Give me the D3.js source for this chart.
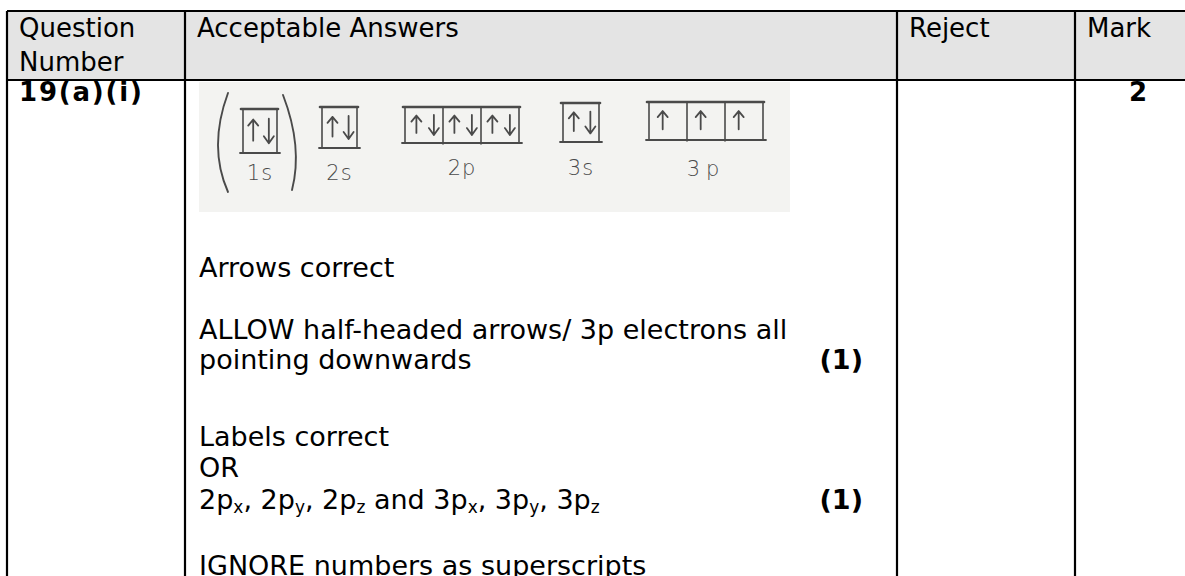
<!DOCTYPE html>
<html>
<head>
<meta charset="utf-8">
<script src="https://cdn.jsdelivr.net/npm/d3@7"></script>
<style>
  body { margin: 0; background: #fff; overflow: hidden; }
  svg { display: block; }
  text { font-family: "DejaVu Sans", Verdana, sans-serif; fill: #000; }
</style>
</head>
<body>
<div class="vis-table"></div>
<script>
// ---- table content ----
const headers = [["Question", "Number"], ["Acceptable Answers"], ["Reject"], ["Mark"]];
const questionNumber = "19(a)(i)";
const totalMark = "2";

// ---- orbital diagram ----
const orbitalLabels = ["1s", "2s", "2p", "3s", "3p"];
const orbitalElectrons = [[2], [2], [2, 2, 2], [2], [1, 1, 1]];

// ---- answer lines ("_x" = subscript) ----
const answerLines = [
  "Arrows correct",
  "ALLOW half-headed arrows/ 3p electrons all",
  "pointing downwards",
  "Labels correct",
  "OR",
  "2p_x, 2p_y, 2p_z and 3p_x, 3p_y, 3p_z",
  "IGNORE numbers as superscripts"
];
const lineMarks = ["", "", "(1)", "", "", "(1)", ""];

const draw = () => {
    const width = 1185, height = 576;
    const colEdges = [7, 185, 897, 1075, 1195];
    const headTop = 11, headBottom = 80;

    d3.select('.vis-table > *').remove();
    let svg = d3.select('.vis-table')
                .append('svg')
                .attr('width', width)
                .attr('height', height);

    // header background
    svg.append("rect")
        .attr("x", colEdges[0]).attr("y", headTop)
        .attr("width", colEdges[4] - colEdges[0])
        .attr("height", headBottom - headTop)
        .attr("fill", "#e4e4e4");

    // header text
    svg.selectAll(".head")
        .data(headers)
        .enter()
        .append("text")
        .attr("class", "head")
        .attr("font-size", 26)
        .each(function(d, i){
            d3.select(this).selectAll("tspan")
                .data(d)
                .enter()
                .append("tspan")
                .attr("x", colEdges[i] + 12)
                .attr("y", function(s, j){ return 37 + j * 34; })
                .text(function(s){ return s; });
        });

    // first row
    svg.append("text")
        .attr("x", colEdges[0] + 12).attr("y", 101)
        .attr("font-size", 26).attr("font-weight", "bold")
        .attr("letter-spacing", 1.8)
        .text(questionNumber);
    svg.append("text")
        .attr("x", 1138).attr("y", 101)
        .attr("text-anchor", "middle")
        .attr("font-size", 26).attr("font-weight", "bold")
        .text(totalMark);

    // ---- orbital diagram ----
    svg.append("rect")
        .attr("x", 199).attr("y", 82)
        .attr("width", 591).attr("height", 130)
        .attr("fill", "#f3f3f1");

    const leftX = d3.scaleOrdinal().domain(orbitalLabels).range([243, 322, 405, 563, 649]);
    const topY = d3.scaleOrdinal().domain(orbitalLabels).range([109, 107, 107, 103, 102]);
    const bottomY = d3.scaleOrdinal().domain(orbitalLabels).range([153, 148, 143, 142, 140]);
    const boxW = d3.scaleOrdinal().domain(orbitalLabels).range([34, 35, 38, 36, 38]);
    const labelY = d3.scaleOrdinal().domain(orbitalLabels).range([180, 180, 175, 175, 176]);

    const ink = "#4a4a4a";
    const diagram = svg.append("g")
        .attr("fill", "none")
        .attr("stroke", ink)
        .attr("stroke-linecap", "round")
        .attr("stroke-linejoin", "round");

    const orbitals = orbitalLabels.map(function(l, i){
        return {label: l, electrons: orbitalElectrons[i]};
    });

    const groups = diagram.selectAll(".orbital")
        .data(orbitals)
        .enter()
        .append("g")
        .attr("class", "orbital");

    groups.each(function(d){
        const g = d3.select(this);
        const x0 = leftX(d.label), y0 = topY(d.label), y1 = bottomY(d.label), w = boxW(d.label);
        const n = d.electrons.length;

        // boxes
        g.append("rect")
            .attr("x", x0).attr("y", y0)
            .attr("width", w * n).attr("height", y1 - y0)
            .attr("stroke-width", 1.6);
        g.append("line")
            .attr("x1", x0 - 2).attr("x2", x0 + w * n + 1)
            .attr("y1", y0).attr("y2", y0)
            .attr("stroke-width", 2.6);
        g.append("line")
            .attr("x1", x0 - 3).attr("x2", x0 + w * n + 3)
            .attr("y1", y1).attr("y2", y1)
            .attr("stroke-width", 1.8);
        for(let k = 1; k < n; k++){
            g.append("line")
                .attr("x1", x0 + w * k).attr("x2", x0 + w * k)
                .attr("y1", y0).attr("y2", y1 + 1)
                .attr("stroke-width", 1.6);
        }

        // electrons
        d.electrons.forEach(function(count, k){
            const bx = x0 + w * k, h = y1 - y0;
            const spots = count === 2 ? [["up", 0.3], ["down", 0.76]] : [["up", 0.36]];
            spots.forEach(function(s){
                const ax = bx + w * s[1];
                const p = d3.path();
                if(s[0] === "up"){
                    const yb = y0 + h * 0.72, yt = y0 + h * 0.24;
                    p.moveTo(ax, yb); p.lineTo(ax, yt);
                    p.moveTo(ax - 5, yt + 6); p.lineTo(ax, yt); p.lineTo(ax + 5, yt + 6);
                } else {
                    const yt = y0 + h * 0.22, yb = y0 + h * 0.78;
                    p.moveTo(ax, yt); p.lineTo(ax, yb);
                    p.moveTo(ax - 5, yb - 7); p.lineTo(ax, yb); p.lineTo(ax + 5, yb - 7);
                }
                g.append("path").attr("d", p.toString()).attr("stroke-width", 1.8);
            });
        });

        // handwritten label
        g.append("text")
            .attr("x", x0 + w * n / 2)
            .attr("y", labelY(d.label))
            .attr("text-anchor", "middle")
            .attr("font-size", 21)
            .attr("font-weight", 300)
            .attr("letter-spacing", d.label === "3p" ? 6 : 1)
            .attr("stroke", "none")
            .style("fill", ink)
            .text(d.label);
    });

    // brackets round 1s
    const b0 = leftX("1s"), bw = boxW("1s");
    const lp = d3.path();
    lp.moveTo(b0 - 15, 93); lp.quadraticCurveTo(b0 - 35, 147, b0 - 15, 192);
    const rp = d3.path();
    rp.moveTo(b0 + bw + 6, 95); rp.quadraticCurveTo(b0 + bw + 26, 147, b0 + bw + 15, 190);
    diagram.append("path").attr("d", lp.toString()).attr("stroke-width", 1.9);
    diagram.append("path").attr("d", rp.toString()).attr("stroke-width", 1.9);

    // ---- answer text ----
    const baselines = [277, 339, 369, 446, 477, 509, 575];

    const lines = svg.selectAll(".answer")
        .data(answerLines)
        .enter()
        .append("text")
        .attr("class", "answer")
        .attr("x", colEdges[1] + 14)
        .attr("y", function(d, i){ return baselines[i]; })
        .attr("font-size", 27);

    lines.each(function(d){
        const t = d3.select(this);
        let shift = 0;
        d.split(/_(\w)/).forEach(function(part, j){
            if(part === "") return;
            const sub = j % 2 === 1;
            const span = t.append("tspan").text(part);
            if(sub){
                span.attr("font-size", 17).attr("dy", 4);
                shift = -4;
            } else if(shift){
                span.attr("dy", shift);
                shift = 0;
            }
        });
    });

    const marks = lineMarks
        .map(function(m, i){ return {text: m, y: baselines[i]}; })
        .filter(function(d){ return d.text !== ""; });

    svg.selectAll(".mark")
        .data(marks)
        .enter()
        .append("text")
        .attr("class", "mark")
        .attr("x", 863)
        .attr("y", function(d){ return d.y; })
        .attr("text-anchor", "end")
        .attr("font-size", 27)
        .attr("font-weight", "bold")
        .text(function(d){ return d.text; });

    // ---- grid lines ----
    const grid = svg.append("g").attr("stroke", "#000").attr("stroke-width", 2.2);
    grid.selectAll(".vline")
        .data(colEdges.slice(0, 4))
        .enter()
        .append("line")
        .attr("x1", function(d){ return d; })
        .attr("x2", function(d){ return d; })
        .attr("y1", headTop)
        .attr("y2", height + 5);
    grid.selectAll(".hline")
        .data([headTop, headBottom])
        .enter()
        .append("line")
        .attr("x1", colEdges[0])
        .attr("x2", width + 5)
        .attr("y1", function(d){ return d; })
        .attr("y2", function(d){ return d; });
};

draw();
</script>
</body>
</html>
